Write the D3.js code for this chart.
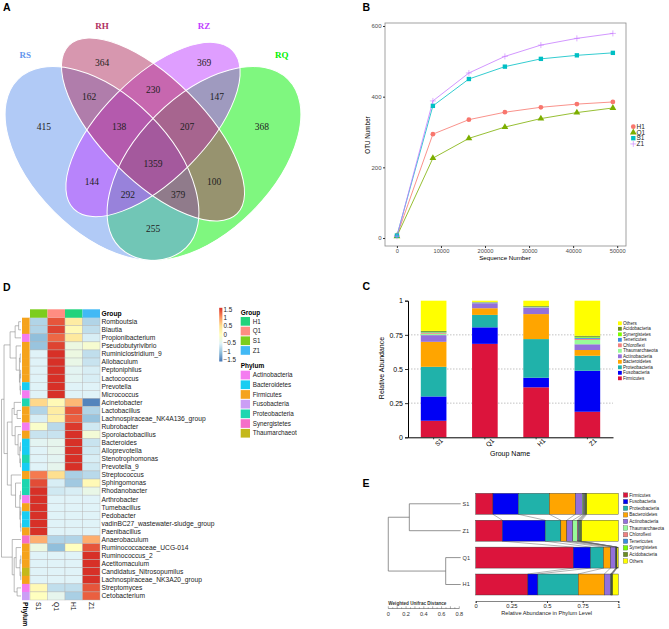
<!DOCTYPE html>
<html>
<head>
<meta charset="utf-8">
<script src="https://cdn.jsdelivr.net/npm/d3@7"></script>
<style>
  body { margin: 0; background: #fff; }
  svg { display: block; font-family: "Liberation Sans", Arial, sans-serif; }
</style>
</head>
<body>
<svg width="669" height="629"></svg>
<script>
// ---------- data ----------
// A: Venn (region counts)
const vennSets = ['RS', 'RH', 'RZ', 'RQ'];
const vennCounts = [415, 364, 369, 368, 162, 230, 147, 138, 207, 1359, 144, 100, 292, 379, 255];

// B: rarefaction curves
const groups = ['H1', 'Q1', 'S1', 'Z1'];
const seqDepth = [10, 8170, 16340, 24510, 32680, 40850, 49020];
const otuH1 = [7, 294, 335, 356, 370, 379, 385];
const otuQ1 = [5, 226, 282, 314, 338, 355, 368];
const otuS1 = [7, 374, 450, 485, 507, 517, 524];
const otuZ1 = [5, 388, 467, 514, 546, 565, 579];

// C / E: phylum relative abundance
const phyla = ['Firmicutes', 'Fusobacteria', 'Proteobacteria', 'Bacteroidetes', 'Actinobacteria',
  'Thaumarchaeota', 'Chloroflexi', 'Tenericutes', 'Synergistetes', 'Acidobacteria', 'Others'];
const barGroups = ['S1', 'Q1', 'H1', 'Z1'];
const treeOrder = ['S1', 'Z1', 'Q1', 'H1'];
const abundS1 = [0.121, 0.178, 0.217, 0.183, 0.049, 0.010, 0.006, 0.004, 0.004, 0.007, 0.221];
const abundQ1 = [0.684, 0.121, 0.091, 0.049, 0.037, 0.002, 0.002, 0.002, 0.001, 0.002, 0.009];
const abundH1 = [0.366, 0.070, 0.283, 0.183, 0.045, 0.003, 0.002, 0.002, 0.002, 0.005, 0.039];
const abundZ1 = [0.187, 0.300, 0.110, 0.042, 0.042, 0.032, 0.008, 0.008, 0.007, 0.007, 0.257];
// UPGMA tree on weighted unifrac distance
const treeE = { h: 0.816, c: [{ h: 0.579, c: ['S1', 'Z1'] }, { h: 0.169, c: ['Q1', 'H1'] }] };

// D: heatmap (row z-scores)
const heatCols = ['S1', 'Q1', 'H1', 'Z1'];
const genera = ['Romboutsia', 'Blautia', 'Propionibacterium', 'Pseudobutyrivibrio', 'Ruminiclostridium_9',
  'Allobaculum', 'Peptoniphilus', 'Lactococcus', 'Prevotella', 'Micrococcus', 'Acinetobacter',
  'Lactobacillus', 'Lachnospiraceae_NK4A136_group', 'Rubrobacter', 'Sporolactobacillus', 'Bacteroides',
  'Alloprevotella', 'Stenotrophomonas', 'Prevotella_9', 'Streptococcus', 'Sphingomonas', 'Rhodanobacter',
  'Arthrobacter', 'Tumebacillus', 'Pedobacter', 'vadinBC27_wastewater-sludge_group', 'Paenibacillus',
  'Anaerobaculum', 'Ruminococcaceae_UCG-014', 'Ruminococcus_2', 'Acetitomaculum',
  'Candidatus_Nitrosopumilus', 'Lachnospiraceae_NK3A20_group', 'Streptomyces', 'Cetobacterium'];
const generaPhylum = ['Firmicutes', 'Firmicutes', 'Actinobacteria', 'Firmicutes', 'Firmicutes',
  'Firmicutes', 'Firmicutes', 'Firmicutes', 'Bacteroidetes', 'Actinobacteria', 'Proteobacteria',
  'Firmicutes', 'Firmicutes', 'Actinobacteria', 'Firmicutes', 'Bacteroidetes',
  'Bacteroidetes', 'Proteobacteria', 'Bacteroidetes', 'Firmicutes', 'Proteobacteria', 'Proteobacteria',
  'Actinobacteria', 'Firmicutes', 'Bacteroidetes', 'Bacteroidetes', 'Firmicutes',
  'Synergistetes', 'Firmicutes', 'Firmicutes', 'Firmicutes',
  'Thaumarchaeota', 'Firmicutes', 'Actinobacteria', 'Fusobacteria'];
const zS1 = [-0.8, -0.8, -1.0, -0.95, -0.5, -0.5, -0.5, -0.5, -0.5, -0.5, 0.55, -0.8, -0.55, -0.1, -0.65, -0.45,
  -0.5, -0.5, -0.5, 1.1, 1.35, 1.5, 1.5, 1.5, 1.5, 1.5, 1.5, 0.8, -0.3, -0.5, -0.5, -0.5, -0.5, 0.1, 0.0];
const zQ1 = [1.3, 1.4, 1.2, 1.4, 1.5, 1.5, 1.5, 1.5, 1.5, 1.5, 0.1, 0.3, 0.25, -0.75, -0.65, -0.4,
  -0.4, -0.45, -0.4, 0.5, -0.55, -0.6, -0.5, -0.5, -0.5, -0.5, -0.5, -0.8, -1.0, -0.5, -0.5, -0.5, -0.5, -0.7, -0.4];
const zH1 = [0.3, 0.1, 0.35, -0.3, -0.3, -0.35, -0.45, -0.45, -0.5, -0.5, 0.75, 1.3, 1.25, 1.45, 1.5, 1.5,
  1.5, 1.5, 1.5, -0.85, -0.9, -0.55, -0.5, -0.5, -0.5, -0.5, -0.5, -0.8, 0.0, -0.5, -0.5, -0.5, -0.5, -0.7, -0.85];
const zZ1 = [-0.8, -0.7, -0.55, -0.15, -0.7, -0.65, -0.55, -0.55, -0.5, -0.5, -1.4, -0.8, -0.95, -0.6, -0.2, -0.65,
  -0.6, -0.55, -0.6, -0.75, 0.1, -0.35, -0.5, -0.5, -0.5, -0.5, -0.5, 0.8, 1.3, 1.5, 1.5, 1.5, 1.5, 1.3, 1.25];
const heatPhyla = ['Actinobacteria', 'Bacteroidetes', 'Firmicutes', 'Fusobacteria', 'Proteobacteria',
  'Synergistetes', 'Thaumarchaeota'];
const legendTicks = [1.5, 1, 0.5, 0, -0.5, -1, -1.5];
// row dendrogram, leaves are row indexes
const rowTree = { h: 1, c: [
  { h: 0.87, c: [
    { h: 0.56, c: [
      { h: 0.3, c: [{ h: 0.12, c: [0, 1] }, 2] },
      { h: 0.25, c: [3, { h: 0.08, c: [{ h: 0.04, c: [4, 5] }, { h: 0.05, c: [{ h: 0.02, c: [6, 7] }, { h: 0.03, c: [8, 9] }] }] }] }
    ] },
    { h: 0.7, c: [
      { h: 0.46, c: [
        { h: 0.35, c: [10, { h: 0.2, c: [11, 12] }] },
        { h: 0.3, c: [13, { h: 0.15, c: [14, { h: 0.06, c: [{ h: 0.03, c: [15, 16] }, { h: 0.03, c: [17, 18] }] }] }] }
      ] },
      { h: 0.5, c: [19, { h: 0.28, c: [20, { h: 0.06, c: [{ h: 0.02, c: [21, 22] },
        { h: 0.03, c: [{ h: 0.01, c: [23, 24] }, { h: 0.01, c: [25, 26] }] }] }] }] }
    ] }
  ] },
  { h: 0.45, c: [27, { h: 0.35, c: [{ h: 0.25, c: [28, { h: 0.05, c: [{ h: 0.01, c: [29, 30] }, { h: 0.01, c: [31, 32] }] }] },
    { h: 0.2, c: [33, 34] }] }] }
] };

// ---------- setup ----------
const svg = d3.select('svg');
const panelLetter = (x, y, t) => svg.append('text')
  .attr('x', x).attr('y', y).attr('font-size', 10.5).attr('font-weight', 'bold').text(t);
panelLetter(3, 10.5, 'A');
panelLetter(362.5, 10.5, 'B');
panelLetter(362.5, 290, 'C');
panelLetter(3, 290.5, 'D');
panelLetter(362.5, 487, 'E');

// ---------- A: Venn ----------
const vx = d3.scaleLinear().domain([0, 1]).range([-17, 323]);
const vy = d3.scaleLinear().domain([0, 1]).range([323.3, -16.7]);
const vennColor = d3.scaleOrdinal(vennSets, ['#6495ED', '#B03060', '#BF3EFF', '#00F000']);
// unit-square layout of the four ellipses (drawn in this order)
const vennShapes = [
  { set: 'RQ', cx: 0.65, cy: 0.47, a: 0.35, b: 0.20, rot: -45 },
  { set: 'RS', cx: 0.35, cy: 0.47, a: 0.35, b: 0.20, rot: 45 },
  { set: 'RZ', cx: 0.50, cy: 0.57, a: 0.33, b: 0.15, rot: -45 },
  { set: 'RH', cx: 0.50, cy: 0.57, a: 0.35, b: 0.15, rot: 45 }
];
const vennLabelPos = [[0.179, 0.577], [0.35, 0.768], [0.65, 0.768], [0.82, 0.577], [0.312, 0.666],
  [0.5, 0.686], [0.688, 0.666], [0.4, 0.577], [0.6, 0.577], [0.5, 0.469], [0.32, 0.416],
  [0.68, 0.416], [0.426, 0.378], [0.574, 0.378], [0.5, 0.277]];
const vennSetPos = [[0.124, 0.789], [0.35, 0.874], [0.65, 0.874], [0.879, 0.789]];
const unit = vx(1) - vx(0);

const gA = svg.append('g');
const ell = sel => sel
  .attr('cx', d => vx(d.cx)).attr('cy', d => vy(d.cy))
  .attr('rx', d => d.a * unit).attr('ry', d => d.b * unit)
  .attr('transform', d => `rotate(${d.rot},${vx(d.cx)},${vy(d.cy)})`);
gA.selectAll('ellipse.fill').data(vennShapes).join('ellipse').attr('class', 'fill')
  .call(ell).attr('fill', d => vennColor(d.set)).attr('fill-opacity', 0.5);
gA.selectAll('ellipse.line').data(vennShapes).join('ellipse').attr('class', 'line')
  .call(ell).attr('fill', 'none').attr('stroke', '#fff').attr('stroke-width', 1);
gA.selectAll('text.count').data(vennCounts).join('text').attr('class', 'count')
  .attr('x', (d, i) => vx(vennLabelPos[i][0])).attr('y', (d, i) => vy(vennLabelPos[i][1]))
  .attr('dy', '0.35em').attr('text-anchor', 'middle')
  .attr('font-family', '"Liberation Serif", "DejaVu Serif", serif').attr('font-size', 9.5)
  .attr('fill', '#222').text(d => d);
gA.selectAll('text.set').data(vennSets).join('text').attr('class', 'set')
  .attr('x', (d, i) => vx(vennSetPos[i][0])).attr('y', (d, i) => vy(vennSetPos[i][1]))
  .attr('dy', '0.35em').attr('text-anchor', 'middle')
  .attr('font-family', '"Liberation Serif", "DejaVu Serif", serif').attr('font-size', 9)
  .attr('font-weight', 'bold').attr('fill', d => vennColor(d)).text(d => d);

// ---------- B: rarefaction ----------
const xB = d3.scaleLinear().domain([-2700, 52000]).range([385, 626]);
const yB = d3.scaleLinear().domain([-22.6, 608.5]).range([246, 23]);
const groupColor = d3.scaleOrdinal(groups, ['#F8766D', '#7CAE00', '#00BFC4', '#C77CFF']);
const otuSeries = [
  { g: 'H1', v: otuH1 }, { g: 'Q1', v: otuQ1 }, { g: 'S1', v: otuS1 }, { g: 'Z1', v: otuZ1 }
];
const gB = svg.append('g');
gB.append('rect').attr('x', 385).attr('y', 23).attr('width', 241).attr('height', 223)
  .attr('fill', '#fff').attr('stroke', '#8a8a8a').attr('stroke-width', 0.8);

const shapePath = g => {
  if (g === 'Z1') return 'M-3,0H3M0,-3V3';
  const sym = { H1: [d3.symbolCircle, 18], Q1: [d3.symbolTriangle, 20], S1: [d3.symbolSquare, 19] }[g];
  return d3.symbol(sym[0], sym[1])();
};
const lineB = d3.line().x((d, i) => xB(seqDepth[i])).y(d => yB(d));
gB.selectAll('path.curve').data(otuSeries).join('path').attr('class', 'curve')
  .attr('d', d => lineB(d.v)).attr('fill', 'none')
  .attr('stroke', d => groupColor(d.g)).attr('stroke-width', 0.8);
otuSeries.forEach(s => {
  gB.selectAll(null).data(s.v).join('path')
    .attr('transform', (d, i) => `translate(${xB(seqDepth[i])},${yB(d)})`)
    .attr('d', shapePath(s.g))
    .attr('fill', s.g === 'Z1' ? 'none' : groupColor(s.g))
    .attr('stroke', s.g === 'Z1' ? groupColor(s.g) : 'none').attr('stroke-width', 0.6);
});

const styleAxis = (g, size, color) => {
  g.selectAll('text').attr('font-size', size).attr('fill', color).attr('font-family', '"Liberation Sans", Arial, sans-serif');
  g.selectAll('line').attr('stroke', '#333');
};
gB.append('g').attr('transform', 'translate(385,0)')
  .call(d3.axisLeft(yB).tickValues([0, 200, 400, 600]).tickSize(2).tickPadding(1.5))
  .call(g => g.select('.domain').remove())
  .call(g => styleAxis(g, 6, '#4d4d4d'));
gB.append('g').attr('transform', 'translate(0,246)')
  .call(d3.axisBottom(xB).tickValues([0, 10000, 20000, 30000, 40000, 50000]).tickFormat(d3.format('d'))
    .tickSize(2).tickPadding(0.8))
  .call(g => g.select('.domain').remove())
  .call(g => styleAxis(g, 5.7, '#4d4d4d'));
gB.append('text').attr('x', 505).attr('y', 260).attr('text-anchor', 'middle')
  .attr('font-size', 6.2).text('Sequence Number');
gB.append('text').attr('transform', 'translate(370,135) rotate(-90)').attr('text-anchor', 'middle')
  .attr('font-size', 6.3).text('OTU Number');
const legB = gB.selectAll('g.leg').data(groups).join('g').attr('class', 'leg')
  .attr('transform', (d, i) => `translate(633.3,${126.7 + i * 5.75})`);
legB.append('path').attr('d', d => shapePath(d))
  .attr('fill', d => d === 'Z1' ? 'none' : groupColor(d))
  .attr('stroke', d => d === 'Z1' ? groupColor(d) : 'none').attr('stroke-width', 0.6);
legB.append('text').attr('x', 3.2).attr('dy', '0.35em').attr('font-size', 6.5).attr('fill', '#222').text(d => d);

// ---------- C: stacked bars ----------
const phylumColor = d3.scaleOrdinal(phyla, ['#DC143C', '#0000F5', '#20B2AA', '#FFA500', '#9370DB',
  '#98FB98', '#F08080', '#3A8EE0', '#7CFC00', '#6B8E23', '#FFFF00']);
const abundByGroup = { S1: abundS1, Q1: abundQ1, H1: abundH1, Z1: abundZ1 };
const abundTable = barGroups.map(g => {
  const row = { group: g };
  phyla.forEach((p, j) => { row[p] = abundByGroup[g][j]; });
  return row;
});
const stacked = d3.stack().keys(phyla)(abundTable);

const xC = d3.scaleBand().domain(barGroups).range([408, 613]).paddingInner(0.5).paddingOuter(0.25);
const yC = d3.scaleLinear().domain([0, 1]).range([437.3, 300.7]);
const gC = svg.append('g');
gC.selectAll('line.grid').data([0.25, 0.5, 0.75]).join('line').attr('class', 'grid')
  .attr('x1', 408).attr('x2', 613).attr('y1', d => yC(d)).attr('y2', d => yC(d))
  .attr('stroke', '#999').attr('stroke-width', 0.6).attr('stroke-dasharray', '1.5,1.5');
gC.selectAll('g.layer').data(stacked).join('g').attr('class', 'layer')
  .attr('fill', d => phylumColor(d.key))
  .selectAll('rect').data(d => d).join('rect')
  .attr('x', d => xC(d.data.group)).attr('width', xC.bandwidth())
  .attr('y', d => yC(d[1])).attr('height', d => yC(d[0]) - yC(d[1]));
gC.append('g').attr('transform', 'translate(408,0)')
  .call(d3.axisLeft(yC).tickValues([0, 0.25, 0.5, 0.75, 1]).tickFormat(d3.format('~g')).tickSize(3).tickPadding(2))
  .call(g => g.select('.domain').attr('stroke', '#000'))
  .call(g => styleAxis(g, 7, '#000'));
gC.append('g').attr('transform', 'translate(0,437.3)')
  .call(d3.axisBottom(xC).tickSize(2).tickSizeOuter(0))
  .call(g => g.select('.domain').attr('stroke', '#000'))
  .call(g => styleAxis(g, 6.5, '#000'))
  .call(g => g.selectAll('text').attr('text-anchor', 'end')
    .attr('transform', 'translate(3,-3) rotate(-45)'));
gC.append('text').attr('x', 510).attr('y', 455.5).attr('text-anchor', 'middle')
  .attr('font-size', 7).text('Group Name');
gC.append('text').attr('transform', 'translate(384,368) rotate(-90)').attr('text-anchor', 'middle')
  .attr('font-size', 7).text('Relative Abundance');
const legC = gC.selectAll('g.leg').data(phyla.slice().reverse()).join('g').attr('class', 'leg')
  .attr('transform', (d, i) => `translate(618,${323.3 + i * 5.5})`);
legC.append('rect').attr('x', 0).attr('y', -1.9).attr('width', 3.8).attr('height', 3.8)
  .attr('fill', d => phylumColor(d));
legC.append('text').attr('x', 5).attr('dy', '0.35em').attr('font-size', 4.6).attr('fill', '#222').text(d => d);

// ---------- E: tree + horizontal bars ----------
const xE = d3.scaleLinear().domain([0, 1]).range([475.7, 618.3]);
const yE = d3.scaleBand().domain(treeOrder).range([493.3, 595]).paddingInner(0.22);
const gE = svg.append('g');
// connecting lines between neighbouring bars
const cumOf = g => d3.cumsum(abundByGroup[g]);
for (let r = 0; r < treeOrder.length - 1; r++) {
  const up = cumOf(treeOrder[r]), lo = cumOf(treeOrder[r + 1]);
  gE.selectAll(null).data(d3.range(0, phyla.length - 1)).join('line')
    .attr('x1', k => xE(up[k])).attr('y1', yE(treeOrder[r]) + yE.bandwidth())
    .attr('x2', k => xE(lo[k])).attr('y2', yE(treeOrder[r + 1]))
    .attr('stroke', '#666').attr('stroke-width', 0.5);
}
gE.selectAll('g.layer').data(stacked).join('g').attr('class', 'layer')
  .attr('fill', d => phylumColor(d.key))
  .selectAll('rect').data(d => d).join('rect')
  .attr('y', d => yE(d.data.group)).attr('height', yE.bandwidth())
  .attr('x', d => xE(d[0])).attr('width', d => xE(d[1]) - xE(d[0]))
  .attr('stroke', '#333').attr('stroke-width', 0.4);
gE.append('g').attr('transform', 'translate(0,601)')
  .call(d3.axisBottom(xE).tickValues([0, 0.25, 0.5, 0.75, 1]).tickFormat(d3.format('~g')).tickSize(2).tickPadding(1))
  .call(g => g.select('.domain').attr('stroke', '#333').attr('stroke-width', 0.6))
  .call(g => styleAxis(g, 5.8, '#222'));
gE.append('text').attr('x', 546.7).attr('y', 614.5).attr('text-anchor', 'middle')
  .attr('font-size', 5.6).attr('fill', '#222').text('Relative Abundance in Phylum Level');

const xTree = d3.scaleLinear().domain([0, 0.8]).range([460.7, 389.7]);
const drawTree = (node, g, xs, leafY) => {
  if (typeof node !== 'object') return { x: xs(0), y: leafY(node) };
  const kids = node.c.map(c => drawTree(c, g, xs, leafY));
  const x = xs(node.h);
  const y = d3.mean(kids, k => k.y);
  const [a, b] = kids;
  g.append('path')
    .attr('d', `M${a.x},${a.y}H${x}V${b.y}H${b.x}`)
    .attr('fill', 'none');
  return { x, y };
};
const gTreeE = gE.append('g').attr('stroke', '#666').attr('stroke-width', 0.7);
drawTree(treeE, gTreeE, xTree, leaf => yE(leaf) + yE.bandwidth() / 2);
gE.selectAll('text.leaf').data(treeOrder).join('text').attr('class', 'leaf')
  .attr('x', 462.6).attr('y', d => yE(d) + yE.bandwidth() / 2).attr('dy', '0.35em')
  .attr('font-size', 5.6).attr('fill', '#333').text(d => d);
// distance scale bar
const xBar = d3.scaleLinear().domain([0, 0.8]).range([388.3, 459.3]);
gE.append('text').attr('x', 388.3).attr('y', 604.5).attr('font-size', 4.6).attr('font-weight', 'bold')
  .attr('fill', '#333').text('Weighted Unifrac Distance');
gE.append('line').attr('x1', xBar(0)).attr('x2', xBar(0.8)).attr('y1', 608.5).attr('y2', 608.5)
  .attr('stroke', '#333').attr('stroke-width', 0.5);
gE.selectAll('line.sb').data(d3.range(0, 0.8001, 0.05)).join('line').attr('class', 'sb')
  .attr('x1', d => xBar(d)).attr('x2', d => xBar(d)).attr('y1', 608.5)
  .attr('y2', (d, i) => i % 2 === 0 ? 606.3 : 607.3).attr('stroke', '#333').attr('stroke-width', 0.4);
gE.selectAll('text.sb').data([0, 0.2, 0.4, 0.6, 0.8]).join('text').attr('class', 'sb')
  .attr('x', d => xBar(d)).attr('y', 615.5).attr('text-anchor', 'middle')
  .attr('font-size', 5.6).attr('fill', '#333').text(d3.format('~g'));
const legE = gE.selectAll('g.leg').data(phyla).join('g').attr('class', 'leg')
  .attr('transform', (d, i) => `translate(623.3,${495 + i * 6.6})`);
legE.append('rect').attr('x', 0).attr('y', -2.2).attr('width', 4.5).attr('height', 4.5)
  .attr('fill', d => phylumColor(d)).attr('stroke', '#444').attr('stroke-width', 0.3);
legE.append('text').attr('x', 6).attr('dy', '0.35em').attr('font-size', 4.6).attr('fill', '#222').text(d => d);

// ---------- D: heatmap ----------
const xH = d3.scaleBand().domain(heatCols).range([30, 100]);
const yH = d3.scaleBand().domain(genera).range([317.7, 600]);
const heatColor = d3.scaleLinear().domain([-1.5, -1, -0.5, 0, 0.5, 1, 1.5])
  .range(['#4575B4', '#91BFDB', '#E0F3F8', '#FFFFBF', '#FEE090', '#FC8D59', '#D73027']).clamp(true);
const colColor = d3.scaleOrdinal(['H1', 'Q1', 'S1', 'Z1'], ['#22D37C', '#FF8C82', '#7CCD1E', '#42B9F5']);
const phyColor = d3.scaleOrdinal(heatPhyla, ['#F47CF0', '#18CDF2', '#F5A31C', '#CB9EF5', '#1ED6B0', '#F56FC8', '#C4B81A']);
const zByCol = { S1: zS1, Q1: zQ1, H1: zH1, Z1: zZ1 };
const cells = genera.flatMap((g, i) => heatCols.map(c => ({ genus: g, col: c, z: zByCol[c][i] })));

const gD = svg.append('g');
gD.selectAll('rect.cell').data(cells).join('rect').attr('class', 'cell')
  .attr('x', d => xH(d.col)).attr('y', d => yH(d.genus))
  .attr('width', xH.bandwidth()).attr('height', yH.bandwidth())
  .attr('fill', d => heatColor(d.z)).attr('stroke', '#b5b5b5').attr('stroke-width', 0.4);
gD.selectAll('rect.colann').data(heatCols).join('rect').attr('class', 'colann')
  .attr('x', d => xH(d)).attr('y', 309.3).attr('width', xH.bandwidth()).attr('height', 8.4)
  .attr('fill', d => colColor(d));
gD.selectAll('rect.rowann').data(genera).join('rect').attr('class', 'rowann')
  .attr('x', 22).attr('y', d => yH(d)).attr('width', 7.6).attr('height', yH.bandwidth() + 0.2)
  .attr('fill', (d, i) => phyColor(generaPhylum[i]));
gD.selectAll('text.row').data(genera).join('text').attr('class', 'row')
  .attr('x', 101.5).attr('y', d => yH(d) + yH.bandwidth() / 2).attr('dy', '0.35em')
  .attr('font-size', 6.7).attr('fill', '#222').text(d => d);
gD.append('text').attr('x', 101.5).attr('y', 313.5).attr('dy', '0.35em')
  .attr('font-size', 6.7).attr('font-weight', 'bold').text('Group');
gD.selectAll('text.col').data(heatCols).join('text').attr('class', 'col')
  .attr('transform', d => `translate(${xH(d) + xH.bandwidth() / 2},602) rotate(90)`)
  .attr('dy', '0.35em').attr('font-size', 6.7).attr('fill', '#222').text(d => d);
gD.append('text').attr('transform', 'translate(25.8,602) rotate(90)')
  .attr('dy', '0.35em').attr('font-size', 6.7).attr('font-weight', 'bold').text('Phylum');

const xd = d3.scaleLinear().domain([0, 1]).range([21, 1.5]);
const gTreeD = gD.append('g').attr('stroke', '#8c8c8c').attr('stroke-width', 0.6);
drawTree(rowTree, gTreeD, xd, i => yH(genera[i]) + yH.bandwidth() / 2);

// color key
const keyY = d3.scaleLinear().domain([-1.5, 1.5]).range([360, 309.3]);
const grad = svg.append('defs').append('linearGradient').attr('id', 'heatGrad')
  .attr('x1', 0).attr('x2', 0).attr('y1', 1).attr('y2', 0);
grad.selectAll('stop').data(heatColor.domain()).join('stop')
  .attr('offset', d => (d + 1.5) / 3).attr('stop-color', d => heatColor(d));
gD.append('rect').attr('x', 219.2).attr('y', keyY(1.5) - 1.5).attr('width', 3.2)
  .attr('height', keyY(-1.5) - keyY(1.5) + 3).attr('fill', 'url(#heatGrad)');
gD.selectAll('text.key').data(legendTicks).join('text').attr('class', 'key')
  .attr('x', 223.5).attr('y', d => keyY(d)).attr('dy', '0.35em')
  .attr('font-size', 6.3).attr('fill', '#222').text(d => d < 0 ? '\u2212' + Math.abs(d) : d);

// annotation legends
svg.append('defs').append('clipPath').attr('id', 'legClip')
  .append('rect').attr('x', 200).attr('y', 300).attr('width', 97).attr('height', 150);
const gLeg = gD.append('g').attr('clip-path', 'url(#legClip)');
gLeg.append('text').attr('x', 240.7).attr('y', 314.6).attr('font-size', 6.5).attr('font-weight', 'bold').text('Group');
const legG = gLeg.selectAll('g.lg').data(['H1', 'Q1', 'S1', 'Z1']).join('g').attr('class', 'lg')
  .attr('transform', (d, i) => `translate(240.7,${317 + i * 9.7})`);
legG.append('rect').attr('width', 9.3).attr('height', 8.7).attr('fill', d => colColor(d));
legG.append('text').attr('x', 12).attr('y', 4.35).attr('dy', '0.35em').attr('font-size', 6.3).attr('fill', '#222').text(d => d);
gLeg.append('text').attr('x', 240.7).attr('y', 367.5).attr('font-size', 6.5).attr('font-weight', 'bold').text('Phylum');
const legP = gLeg.selectAll('g.lp').data(heatPhyla).join('g').attr('class', 'lp')
  .attr('transform', (d, i) => `translate(240.7,${370.7 + i * 9.7})`);
legP.append('rect').attr('width', 9.3).attr('height', 8.7).attr('fill', d => phyColor(d));
legP.append('text').attr('x', 12).attr('y', 4.35).attr('dy', '0.35em').attr('font-size', 6.3).attr('fill', '#222').text(d => d);
</script>
</body>
</html>
